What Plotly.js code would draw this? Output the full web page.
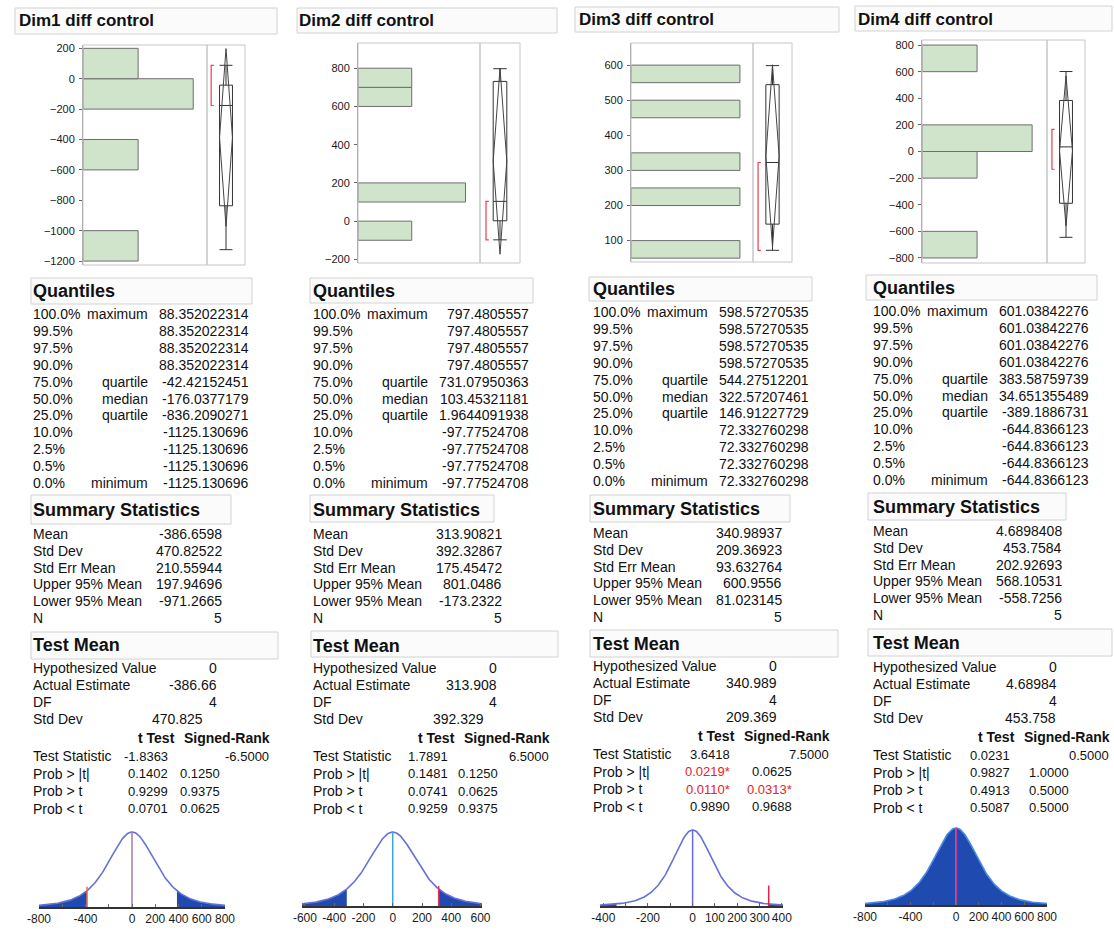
<!DOCTYPE html>
<html><head><meta charset="utf-8">
<script src="https://cdn.plot.ly/plotly-3.0.1.min.js"></script>
<style>html,body{margin:0;padding:0;background:#fff}#chart{width:1114px;height:932px}</style>
</head><body><div id="chart"></div>
<script>
const W = 1114, H = 932;
const FONT = '"Liberation Sans", Arial, Helvetica, sans-serif';

// ---------------- DATA ----------------
const titles = ['Dim1 diff control', 'Dim2 diff control', 'Dim3 diff control', 'Dim4 diff control'];
// individual observations (recovered from the quantile tables, n = 5)
const dim1Values = [-1125.130696, -547.2873582, -176.0377179, -173.1950713, 88.352022314];
const dim2Values = [-97.77524708, 101.7040655, 103.45321181, 664.6784516, 797.4805557];
const dim3Values = [72.332760298, 221.4917943, 322.57207461, 489.9775387, 598.57270535];
const dim4Values = [-644.8366123, -133.5407339, 34.651355489, 166.136772, 601.03842276];
const histBinStart = [-1200, -200, 0, -800];
const histBinEnd = [200, 900, 650, 800];
const histBinSize = [200, 100, 50, 200];

const percents = ['100.0%', '99.5%', '97.5%', '90.0%', '75.0%', '50.0%', '25.0%', '10.0%', '2.5%', '0.5%', '0.0%'];
const quantNames = ['maximum', '', '', '', 'quartile', 'median', 'quartile', '', '', '', 'minimum'];
const quantDim1 = [88.352022314, 88.352022314, 88.352022314, 88.352022314, -42.42152451, -176.0377179, -836.2090271, -1125.130696, -1125.130696, -1125.130696, -1125.130696];
const quantDim2 = [797.4805557, 797.4805557, 797.4805557, 797.4805557, 731.07950363, 103.45321181, 1.9644091938, -97.77524708, -97.77524708, -97.77524708, -97.77524708];
const quantDim3 = [598.57270535, 598.57270535, 598.57270535, 598.57270535, 544.27512201, 322.57207461, 146.91227729, 72.332760298, 72.332760298, 72.332760298, 72.332760298];
const quantDim4 = [601.03842276, 601.03842276, 601.03842276, 601.03842276, 383.58759739, 34.651355489, -389.1886731, -644.8366123, -644.8366123, -644.8366123, -644.8366123];

const summaryLabels = ['Mean', 'Std Dev', 'Std Err Mean', 'Upper 95% Mean', 'Lower 95% Mean', 'N'];
const meanVals = [-386.6598, 313.90821, 340.98937, 4.6898408];
const stdDevVals = [470.82522, 392.32867, 209.36923, 453.7584];
const stdErrVals = [210.55944, 175.45472, 93.632764, 202.92693];
const upper95Vals = [197.94696, 801.0486, 600.9556, 568.10531];
const lower95Vals = [-971.2665, -173.2322, 81.023145, -558.7256];
const nVals = [5, 5, 5, 5];

const testLabels = ['Hypothesized Value', 'Actual Estimate', 'DF', 'Std Dev'];
const hypValues = [0, 0, 0, 0];
const actualEst = [-386.66, 313.908, 340.989, 4.68984];
const dfVals = [4, 4, 4, 4];
const testStdDev = [470.825, 392.329, 209.369, 453.758];
const probLabels = ['Test Statistic', 'Prob &gt; |t|', 'Prob &gt; t', 'Prob &lt; t'];
const tStat = [-1.8363, 1.7891, 3.6418, 0.0231];
const srStat = [-6.5, 6.5, 7.5, 0.5];
const tProbAbs = [0.1402, 0.1481, 0.0219, 0.9827];
const tProbGt = [0.9299, 0.0741, 0.0110, 0.4913];
const tProbLt = [0.0701, 0.9259, 0.9890, 0.5087];
const srProbAbs = [0.1250, 0.1250, 0.0625, 1.0000];
const srProbGt = [0.9375, 0.0625, 0.0313, 0.5000];
const srProbLt = [0.0625, 0.9375, 0.9688, 0.5000];
const curveTickLabels = [[-800, -400, 0, 200, 400, 600, 800], [-600, -400, -200, 0, 200, 400, 600], [-400, -200, 0, 100, 200, 300, 400], [-800, -400, 0, 200, 400, 600, 800]];

// ---------------- LAYOUT / STYLE ----------------
const values = [dim1Values, dim2Values, dim3Values, dim4Values];
const quants = [quantDim1, quantDim2, quantDim3, quantDim4];
const colBase = [33, 313, 593, 873];
const titleBox = [[15, 8, 277, 34], [297, 8, 557, 33], [575, 7, 839, 32], [855, 6, 1112, 31]];
const titleY = [21, 21, 20, 19];
const titleX = [19, 299, 579, 858];
const quantBox = [[31, 278, 252, 304], [310, 278, 533, 303], [589, 277, 812, 301], [866, 275, 1097, 300]];
const quantHeadY = [291, 291, 289, 288];
const quantRow0 = [314, 314, 312, 311];
const sumBox = [[31, 495, 231, 524], [310, 495, 494, 522], [590, 495, 790, 522], [868, 493, 1066, 520]];
const sumHeadY = [510, 510, 509, 507];
const sumRow0 = [534, 534, 533, 531];
const testBox = [[31, 632, 278, 659], [311, 631, 558, 657], [590, 630, 838, 657], [868, 629, 1112, 656]];
const testHeadY = [645, 646, 644, 643];
const testRow0 = [668, 668, 666, 667];
const stdDevRight = [170, 171, 184, 183];
const tRight = [135, 135, 137, 137];
const srPRight = [187, 185, 199, 196];
// histogram/box frame: left, divider, right, top, bottom (px)
const frame = [[83, 207, 245, 45, 265], [358, 480, 520, 43, 263], [631, 753, 792, 43, 262], [922, 1047, 1085, 40, 263]];
const histYRange = [[-1226, 222], [-219, 932], [39, 663], [-838, 838]];
const histDtick = [200, 200, 100, 200];
const histXMax = [2.25, 2.27, 1.12, 2.27];
const bracketX = [0.11, 0.15, 0.13, 0.13];
// test-mean curve: left, right, top(peak), baseline
const curveBox = [[39, 225, 832, 907], [302, 482, 832, 906], [600, 783, 830, 906], [865, 1047, 828, 905]];
const curveRange = [[-800, 800], [-620, 610], [-415, 405], [-800, 800]];
const curveMinor = [200, 200, 100, 200];
const hypLineColor = ['#a27ab8', '#3aa8e0', '#6a6ae6', '#7a58c8'];
const estLineColor = ['#e8703a', '#e8305a', '#e8204a', 'rgba(215,40,120,0.7)'];
const curveLineColor = ['#6670d8', '#6670d8', '#6670d8', '#4a8ae6'];
const TAIL_FILL = '#1f4bb0';
const TXT = '#111';
const RED = '#e8202a';

const fx = p => p / W;
const fy = p => 1 - p / H;
const xn = n => n === 1 ? 'x' : 'x' + n;
const yn = n => n === 1 ? 'y' : 'y' + n;
const xk = n => n === 1 ? 'xaxis' : 'xaxis' + n;
const yk = n => n === 1 ? 'yaxis' : 'yaxis' + n;

const traces = [];
const annotations = [];
const shapes = [];
const layout = {
  width: W, height: H, margin: {l: 0, r: 0, t: 0, b: 0},
  paper_bgcolor: '#fff', plot_bgcolor: 'rgba(0,0,0,0)',
  showlegend: false, bargap: 0, hovermode: false,
  font: {family: FONT, color: TXT}
};

function ann(text, x, y, anchor, size, color, bold) {
  annotations.push({
    xref: 'paper', yref: 'paper', x: fx(x), y: fy(y), xanchor: anchor, yanchor: 'middle',
    text: bold ? '<b>' + text + '</b>' : text, showarrow: false, borderpad: 0, borderwidth: 0,
    font: {family: FONT, size: size, color: color || TXT}
  });
}
function box(b, fill) {
  shapes.push({type: 'rect', xref: 'paper', yref: 'paper', x0: fx(b[0]), x1: fx(b[2]), y0: fy(b[3]), y1: fy(b[1]),
    line: {color: '#d2d2d2', width: 1}, fillcolor: fill || '#fbfbfb', layer: 'below'});
}
function tdens(v, se, df) { const t = v / se; return Math.pow(1 + t * t / df, -(df + 1) / 2); }
function fmtP(p) { return p < 0.05 ? {t: p.toFixed(4) + '*', c: RED} : {t: p.toFixed(4), c: TXT}; }

for (let c = 0; c < 4; c++) {
  const hx = c * 3 + 1, bx = c * 3 + 2, cx = c * 3 + 3;
  const hy = c * 2 + 1, cy = c * 2 + 2;
  const fr = frame[c];
  const data = values[c];
  const q = quants[c];
  const base = colBase[c];

  // ---- axes ----
  layout[xk(hx)] = {domain: [fx(fr[0]), fx(fr[1])], range: [0, histXMax[c]], visible: false, anchor: yn(hy), fixedrange: true};
  layout[xk(bx)] = {domain: [fx(fr[1]), fx(fr[2])], range: [0, 1], visible: false, anchor: yn(hy), fixedrange: true};
  layout[yk(hy)] = {domain: [fy(fr[4]), fy(fr[3])], range: histYRange[c], anchor: xn(hx),
    tick0: 0, dtick: histDtick[c], ticks: 'outside', ticklen: 3, tickcolor: '#666',
    showline: true, linecolor: '#9a9a9a', linewidth: 1, showgrid: false, zeroline: false,
    tickfont: {family: FONT, size: 11, color: '#1a1a1a'}, ticklabelstandoff: 2, fixedrange: true};

  const cb = curveBox[c];
  const cr = curveRange[c];
  const topPx = cb[2] - 0.03 * (cb[3] - cb[2]);
  layout[xk(cx)] = {domain: [fx(cb[0]), fx(cb[1])], range: cr, anchor: yn(cy),
    tickmode: 'array', tickvals: curveTickLabels[c], ticktext: curveTickLabels[c].map(String),
    tickangle: 0, ticks: 'inside', ticklen: 3, tickcolor: '#666',
    minor: {dtick: curveMinor[c], tick0: 0, ticks: 'inside', ticklen: 3, tickcolor: '#666', showgrid: false},
    showline: true, linecolor: '#333', linewidth: 1.5, showgrid: false, zeroline: false,
    tickfont: {family: FONT, size: 12, color: '#1a1a1a'}, fixedrange: true};
  layout[yk(cy)] = {domain: [fy(cb[3]), fy(topPx)], range: [0, 1.03], visible: false, anchor: xn(cx), fixedrange: true};

  // ---- frames ----
  shapes.push({type: 'rect', xref: xn(hx) + ' domain', yref: yn(hy) + ' domain', x0: 0, x1: 1, y0: 0, y1: 1,
    line: {color: '#c6c6c6', width: 1}, layer: 'above'});
  shapes.push({type: 'rect', xref: xn(bx) + ' domain', yref: yn(hy) + ' domain', x0: 0, x1: 1, y0: 0, y1: 1,
    line: {color: '#c6c6c6', width: 1}, layer: 'above'});

  // ---- histogram ----
  traces.push({type: 'histogram', y: data, orientation: 'h',
    ybins: {start: histBinStart[c], end: histBinEnd[c], size: histBinSize[c]},
    xaxis: xn(hx), yaxis: yn(hy),
    marker: {color: '#cfe4cb', line: {color: '#6e6e6e', width: 1}}, hoverinfo: 'skip'});

  // ---- outlier box plot ----
  traces.push({type: 'box', x: [0.5], q1: [q[6]], median: [q[5]], q3: [q[4]],
    lowerfence: [q[10]], upperfence: [q[0]], width: 0.34, whiskerwidth: 1, boxpoints: false,
    fillcolor: 'rgba(255,255,255,0)', line: {color: '#333', width: 1},
    xaxis: xn(bx), yaxis: yn(hy), hoverinfo: 'skip'});
  // mean confidence diamond
  traces.push({type: 'scatter', mode: 'lines', x: [0.5, 0.33, 0.5, 0.67, 0.5],
    y: [upper95Vals[c], meanVals[c], lower95Vals[c], meanVals[c], upper95Vals[c]],
    line: {color: '#444', width: 1}, xaxis: xn(bx), yaxis: yn(hy), hoverinfo: 'skip'});
  // shortest half bracket
  const s = data.slice().sort((a, b) => a - b);
  const k = Math.ceil(s.length / 2);
  let lo = s[0], hi = s[k - 1];
  for (let i = 0; i + k - 1 < s.length; i++) {
    if (s[i + k - 1] - s[i] < hi - lo) { lo = s[i]; hi = s[i + k - 1]; }
  }
  const bxp = bracketX[c];
  traces.push({type: 'scatter', mode: 'lines', x: [bxp + 0.07, bxp, bxp, bxp + 0.07], y: [hi, hi, lo, lo],
    line: {color: '#e84050', width: 1.2}, xaxis: xn(bx), yaxis: yn(hy), hoverinfo: 'skip'});

  // ---- test mean curve ----
  const se = stdErrVals[c], df = dfVals[c], est = Math.abs(actualEst[c] - hypValues[c]);
  const N = 240;
  const xs = [], ys = [];
  for (let i = 0; i <= N; i++) { const v = cr[0] + (cr[1] - cr[0]) * i / N; xs.push(v); ys.push(tdens(v - hypValues[c], se, df)); }
  const tail = (a, b) => {
    const tx = [], ty = [];
    const m = 80;
    for (let i = 0; i <= m; i++) { const v = a + (b - a) * i / m; tx.push(v); ty.push(tdens(v - hypValues[c], se, df)); }
    return {tx, ty};
  };
  const L = tail(cr[0], hypValues[c] - est), R = tail(hypValues[c] + est, cr[1]);
  [L, R].forEach(t => traces.push({type: 'scatter', mode: 'lines', x: t.tx, y: t.ty, fill: 'tozeroy',
    fillcolor: TAIL_FILL, line: {width: 0, color: TAIL_FILL}, xaxis: xn(cx), yaxis: yn(cy), hoverinfo: 'skip'}));
  traces.push({type: 'scatter', mode: 'lines', x: xs, y: ys, line: {color: curveLineColor[c], width: 1.6},
    xaxis: xn(cx), yaxis: yn(cy), hoverinfo: 'skip'});
  traces.push({type: 'scatter', mode: 'lines', x: [hypValues[c], hypValues[c]], y: [0, 1],
    line: {color: hypLineColor[c], width: 1.5}, xaxis: xn(cx), yaxis: yn(cy), hoverinfo: 'skip'});
  const eh = Math.max(tdens(actualEst[c] - hypValues[c], se, df), 0.27);
  traces.push({type: 'scatter', mode: 'lines', x: [actualEst[c], actualEst[c]], y: [0, eh],
    line: {color: estLineColor[c], width: 1.5}, xaxis: xn(cx), yaxis: yn(cy), hoverinfo: 'skip'});

  // ---- title ----
  box(titleBox[c]);
  ann(titles[c], titleX[c], titleY[c], 'left', 17, '#111', true);

  // ---- quantiles ----
  box(quantBox[c]);
  ann('Quantiles', base, quantHeadY[c], 'left', 18, '#111', true);
  for (let i = 0; i < percents.length; i++) {
    const y = quantRow0[c] + 16.9 * i;
    ann(percents[i], base, y, 'left', 14);
    if (quantNames[i]) ann(quantNames[i], base + 115, y, 'right', 14);
    ann(String(q[i]), base + 216, y, 'right', 14);
  }

  // ---- summary statistics ----
  box(sumBox[c]);
  ann('Summary Statistics', base, sumHeadY[c], 'left', 18, '#111', true);
  const sv = [meanVals[c], stdDevVals[c], stdErrVals[c], upper95Vals[c], lower95Vals[c], nVals[c]];
  for (let i = 0; i < summaryLabels.length; i++) {
    const y = sumRow0[c] + 16.8 * i;
    ann(summaryLabels[i], base, y, 'left', 14);
    ann(String(sv[i]), base + 189, y, 'right', 14);
  }

  // ---- test mean ----
  box(testBox[c]);
  ann('Test Mean', base, testHeadY[c], 'left', 18, '#111', true);
  const tv = [hypValues[c], actualEst[c], dfVals[c], testStdDev[c]];
  for (let i = 0; i < 4; i++) {
    const y = testRow0[c] + 17 * i;
    ann(testLabels[i], base, y, 'left', 14);
    ann(String(tv[i]), base + (i === 3 ? stdDevRight[c] : 184), y, 'right', 14);
  }
  const r0 = testRow0[c];
  ann('t Test', base + 142, r0 + 70, 'right', 14, '#111', true);
  ann('Signed-Rank', base + 237, r0 + 70, 'right', 14, '#111', true);
  const rowY = [r0 + 88, r0 + 105.5, r0 + 123, r0 + 140.5];
  ann(probLabels[0], base, rowY[0], 'left', 14);
  ann(tStat[c].toFixed(4), base + tRight[c], rowY[0], 'right', 13);
  ann(srStat[c].toFixed(4), base + 236, rowY[0], 'right', 13);
  const tp = [tProbAbs[c], tProbGt[c], tProbLt[c]];
  const sp = [srProbAbs[c], srProbGt[c], srProbLt[c]];
  for (let i = 0; i < 3; i++) {
    ann(probLabels[i + 1], base, rowY[i + 1], 'left', 14);
    const a = fmtP(tp[i]), b = fmtP(sp[i]);
    ann(a.t, base + tRight[c], rowY[i + 1], 'right', 13, a.c);
    ann(b.t, base + srPRight[c], rowY[i + 1], 'right', 13, b.c);
  }
}

layout.annotations = annotations;
layout.shapes = shapes;
Plotly.newPlot('chart', traces, layout, {staticPlot: true, displayModeBar: false});
</script>
</body></html>
